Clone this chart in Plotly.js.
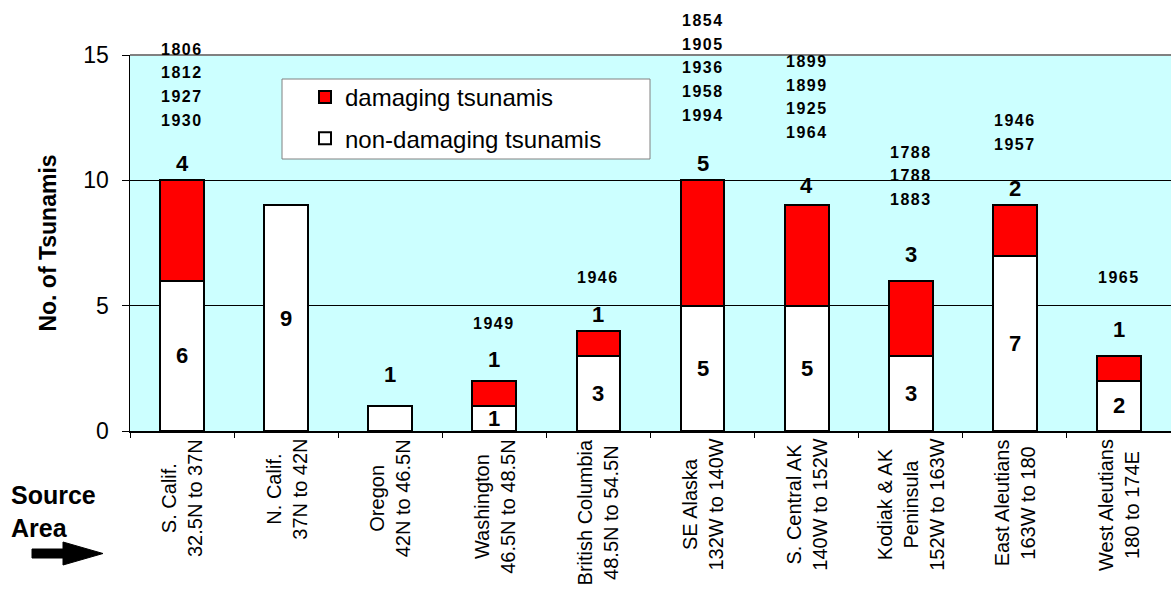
<!DOCTYPE html>
<html>
<head>
<meta charset="utf-8">
<script src="https://cdn.plot.ly/plotly-3.0.1.min.js"></script>
<style>
  html, body { margin: 0; padding: 0; background: #fff; }
  #chart { width: 1171px; height: 591px; }
</style>
</head>
<body>
<div id="chart"></div>
<script>
// ---- data ----
const categoryNames = ['S. Calif.', 'N. Calif.', 'Oregon', 'Washington', 'British Columbia',
  'SE Alaska', 'S. Central AK', 'Kodiak & AK<br>Peninsula', 'East Aleutians', 'West Aleutians'];
const categoryRanges = ['32.5N to 37N', '37N to 42N', '42N to 46.5N', '46.5N to 48.5N', '48.5N to 54.5N',
  '132W to 140W', '140W to 152W', '152W to 163W', '163W to 180', '180 to 174E'];
const nonDamaging = [6, 9, 1, 1, 3, 5, 5, 3, 7, 2];
const damaging = [4, 0, 0, 1, 1, 5, 4, 3, 2, 1];
const damagingYears = [
  ['1806', '1812', '1927', '1930'],
  [],
  [],
  ['1949'],
  ['1946'],
  ['1854', '1905', '1936', '1958', '1994'],
  ['1899', '1899', '1925', '1964'],
  ['1788', '1788', '1883'],
  ['1946', '1957'],
  ['1965']
];
const yTickValues = [0, 5, 10, 15];

// ---- label placement (pixels above bar tops) ----
const countShift = [17, 0, 31, 21, 16, 17, 20, 26, 17, 26];
const yearShift = [60, 0, 0, 57, 53, 65, 73, 81, 61, 78];
const yearLineGap = 23.7;

const FONT = '"Liberation Sans", Arial, Helvetica, sans-serif';
const categories = categoryNames.map((n, i) => n + '<br>' + categoryRanges[i]);

// plot-area geometry for decorations (pixels -> paper)
const M = { l: 130, r: 0, t: 55, b: 160 };
const W = 1171, H = 591;
const pw = W - M.l - M.r, ph = H - M.t - M.b;
const px = x => (x - M.l) / pw;
const py = y => (H - M.b - y) / ph;

const traces = [
  {
    type: 'bar', name: 'non-damaging tsunamis', x: categories, y: nonDamaging,
    marker: { color: '#FFFFFF', line: { color: '#000000', width: 2 } },
    hoverinfo: 'skip', legendgroup: 'nd', legendrank: 2
  },
  {
    type: 'bar', name: 'damaging tsunamis', x: categories, y: damaging,
    marker: { color: '#FF0000', line: { color: '#000000', width: 2 } },
    hoverinfo: 'skip', legendgroup: 'd', legendrank: 1
  }
];

const annotations = [];
categories.forEach((c, i) => {
  const total = nonDamaging[i] + damaging[i];
  const smallAlone = damaging[i] === 0 && nonDamaging[i] <= 1;
  annotations.push({
    xref: 'x', yref: 'y', x: c,
    y: smallAlone ? nonDamaging[i] : nonDamaging[i] / 2,
    yshift: smallAlone ? countShift[i] : 0,
    text: '<b>' + nonDamaging[i] + '</b>', showarrow: false,
    xanchor: 'center', yanchor: 'middle',
    font: { family: FONT, size: 22, color: '#000' }
  });
  if (damaging[i] > 0) {
    annotations.push({
      xref: 'x', yref: 'y', x: c, y: total, yshift: countShift[i],
      text: '<b>' + damaging[i] + '</b>', showarrow: false,
      xanchor: 'center', yanchor: 'middle',
      font: { family: FONT, size: 22, color: '#000' }
    });
  }
  const yrs = damagingYears[i];
  yrs.forEach((yr, j) => {
    annotations.push({
      xref: 'x', yref: 'y', x: c, y: total,
      yshift: yearShift[i] + (yrs.length - 1 - j) * yearLineGap,
      text: '<b><span style="letter-spacing:1.5px">' + yr + '</span></b>', showarrow: false,
      xanchor: 'center', yanchor: 'middle',
      font: { family: FONT, size: 16, color: '#000' }
    });
  });
  annotations.push({
    xref: 'x', yref: 'paper', x: c, y: py(437),
    text: c, showarrow: false, textangle: -90,
    xanchor: 'center', yanchor: 'top', align: 'center',
    font: { family: FONT, size: 20, color: '#000' }
  });
});

annotations.push({
  xref: 'paper', yref: 'paper', x: px(9), y: py(511),
  text: '<b>Source<br>Area</b>', showarrow: false,
  xanchor: 'left', yanchor: 'middle', align: 'left',
  font: { family: FONT, size: 25, color: '#000' }
});

const arrowPath = [[32, 549], [63, 549], [63, 542], [103, 553.5], [63, 565], [63, 558], [32, 558]]
  .map((p, k) => (k === 0 ? 'M' : 'L') + px(p[0]) + ',' + py(p[1])).join(' ') + ' Z';

const shapes = [
  { type: 'line', xref: 'paper', yref: 'paper', x0: 0, x1: 1, y0: 1, y1: 1,
    line: { color: '#808080', width: 2 }, layer: 'above' },
  { type: 'rect', xref: 'paper', yref: 'paper', x0: px(282), x1: px(650), y0: py(79), y1: py(159),
    fillcolor: '#FFFFFF', line: { color: '#808080', width: 1 }, layer: 'above' },
  { type: 'path', xref: 'paper', yref: 'paper', path: arrowPath,
    fillcolor: '#000000', line: { color: '#000000', width: 1 } }
];

const layout = {
  width: W, height: H,
  margin: M,
  paper_bgcolor: '#FFFFFF',
  plot_bgcolor: '#CCFFFF',
  barmode: 'stack',
  bargap: 0.58,
  showlegend: true,
  font: { family: FONT, color: '#000' },
  legend: {
    x: px(305), y: py(75), xanchor: 'left', yanchor: 'top',
    bgcolor: 'rgba(0,0,0,0)', borderwidth: 0,
    traceorder: 'grouped', tracegroupgap: 7,
    font: { family: FONT, size: 24, color: '#000' }
  },
  xaxis: {
    type: 'category', range: [-0.5, 9.5],
    showticklabels: false, ticks: 'outside', tickson: 'boundaries',
    ticklen: 5, tickcolor: '#000', tickwidth: 1,
    showline: true, linecolor: '#000', linewidth: 1.5,
    showgrid: false, zeroline: false, fixedrange: true
  },
  yaxis: {
    range: [0, 15], tickvals: yTickValues, ticktext: yTickValues.map(String),
    ticks: 'outside', ticklen: 7, tickcolor: '#000', tickwidth: 1,
    ticklabelstandoff: 8,
    showline: true, linecolor: '#000', linewidth: 1.5,
    showgrid: true, gridcolor: '#000', gridwidth: 1, zeroline: false,
    tickfont: { family: FONT, size: 23, color: '#000' },
    title: { text: '<b>No. of Tsunamis</b>', font: { family: FONT, size: 23, color: '#000' }, standoff: 20 },
    automargin: false, fixedrange: true
  },
  annotations: annotations,
  shapes: shapes
};

Plotly.newPlot('chart', traces, layout, { displayModeBar: false, staticPlot: true });
</script>
</body>
</html>
